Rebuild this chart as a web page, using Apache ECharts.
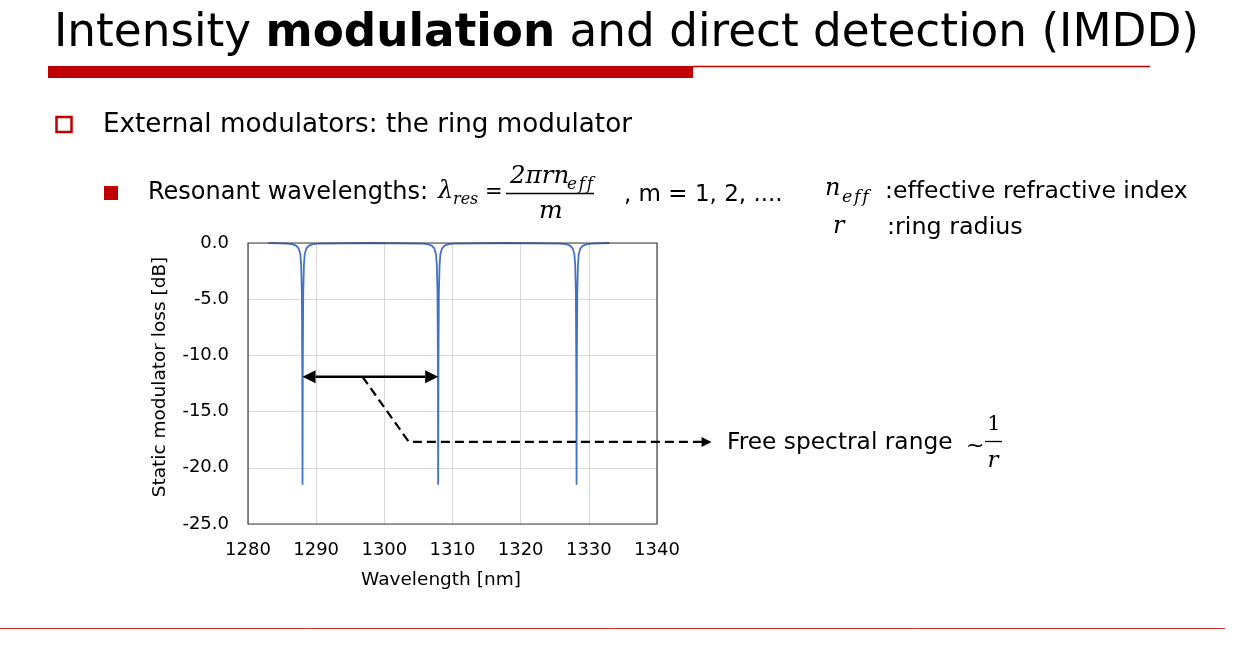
<!DOCTYPE html>
<html>
<head>
<meta charset="utf-8">
<script src="https://cdn.jsdelivr.net/npm/echarts@6/dist/echarts.min.js"></script>
<style>
  html, body { margin: 0; padding: 0; background: #fff; }
  #chart { width: 1240px; height: 648px; }
</style>
</head>
<body>
<div id="chart"></div>
<script>
// x ticks / y ticks
var xTicks = [1280, 1290, 1300, 1310, 1320, 1330, 1340];
var yTicks = [0, -5, -10, -15, -20, -25];

// ring transmission (three resonances)
var wavelength = [
  1283.0, 1285.8, 1286.6, 1287.1, 1287.45, 1287.68, 1287.8, 1287.9, 1287.96,
  1288.0,
  1288.04, 1288.1, 1288.2, 1288.32, 1288.55, 1288.9, 1289.4, 1290.2,
  1298.0,
  1305.7, 1306.5, 1307.0, 1307.35, 1307.58, 1307.7, 1307.8, 1307.86,
  1307.9,
  1307.94, 1308.0, 1308.1, 1308.22, 1308.45, 1308.8, 1309.3, 1310.1,
  1318.0,
  1326.0, 1326.8, 1327.3, 1327.65, 1327.88, 1328.0, 1328.1, 1328.16,
  1328.2,
  1328.24, 1328.3, 1328.4, 1328.52, 1328.75, 1329.1, 1329.6, 1330.4,
  1333.0
];
var loss = [
  0.0, -0.05, -0.12, -0.25, -0.5, -1.0, -2.0, -4.5, -11.0,
  -21.5,
  -11.0, -4.5, -2.0, -1.0, -0.5, -0.25, -0.12, -0.05,
  0.0,
  -0.05, -0.12, -0.25, -0.5, -1.0, -2.0, -4.5, -11.0,
  -21.5,
  -11.0, -4.5, -2.0, -1.0, -0.5, -0.25, -0.12, -0.05,
  0.0,
  -0.05, -0.12, -0.25, -0.5, -1.0, -2.0, -4.5, -11.0,
  -21.5,
  -11.0, -4.5, -2.0, -1.0, -0.5, -0.25, -0.12, -0.05,
  0.0
];

// annotation anchors in data units
var fsrArrow = [[1288.0, -11.9], [1307.9, -11.9]];
var leaderPath = [[1296.8, -11.9], [1303.6, -17.7], [1348.0, -17.7]];

var RED = '#c00000';
var SANS = 'DejaVu Sans';
var SERIF = 'DejaVu Serif';
var EFF = 'e\u200Af\u200Af';

var chart = echarts.init(document.getElementById('chart'));

var seriesData = wavelength.map(function (w, i) { return [w, loss[i]]; });

var option = {
  backgroundColor: '#fff',
  animation: false,
  grid: {
    left: 248, right: 583, top: 243, bottom: 124,
    show: true, borderColor: '#404040', borderWidth: 1.2, z: 4
  },
  xAxis: {
    type: 'value',
    min: xTicks[0], max: xTicks[xTicks.length - 1], interval: 10,
    axisLine: { show: false },
    axisTick: { show: false },
    axisLabel: {
      fontFamily: SANS, fontSize: 18, color: '#000', margin: 17,
      formatter: function (v) { return String(v); }
    },
    splitLine: { lineStyle: { color: '#d9d9d9', width: 1 } }
  },
  yAxis: {
    type: 'value',
    min: yTicks[yTicks.length - 1], max: yTicks[0], interval: 5,
    axisLine: { show: false },
    axisTick: { show: false },
    axisLabel: {
      fontFamily: SANS, fontSize: 18, color: '#000', margin: 19,
      formatter: function (v) { return v.toFixed(1); }
    },
    splitLine: { lineStyle: { color: '#d9d9d9', width: 1 } }
  },
  series: [{
    type: 'line',
    data: seriesData,
    showSymbol: false,
    smooth: false,
    lineStyle: { color: '#4472c4', width: 1.8 },
    z: 3
  }]
};
chart.setOption(option);

// helpers for annotations
function px(p) { return chart.convertToPixel({ gridIndex: 0 }, p); }

function arrowHead(tip, dir, len, half) {
  // dir: +1 points right, -1 points left
  return {
    type: 'polygon',
    shape: { points: [tip, [tip[0] - dir * len, tip[1] - half], [tip[0] - dir * len, tip[1] + half]] },
    style: { fill: '#000' },
    z: 10
  };
}

function txt(s, x, y, size, extra) {
  var st = {
    text: s, fontSize: size, fontFamily: SANS, fill: '#000',
    align: 'left', verticalAlign: 'middle', textAlign: 'left', textVerticalAlign: 'middle'
  };
  if (extra) for (var k in extra) st[k] = extra[k];
  return { type: 'text', x: x, y: y, style: st, z: 10 };
}

function mathTxt(s, x, y, size, extra) {
  var e = { fontFamily: SERIF, fontStyle: 'italic' };
  if (extra) for (var k in extra) e[k] = extra[k];
  return txt(s, x, y, size, e);
}

var a0 = px(fsrArrow[0]), a1 = px(fsrArrow[1]);
var lp = leaderPath.map(px);
var headLen = 13, headHalf = 6.5;

var yName = txt('Static modulator loss [dB]', 160, 377, 18.5, { align: 'center', textAlign: 'center' });
yName.rotation = Math.PI / 2;

var graphics = [
  // title block
  {
    type: 'text', x: 54, y: 34, z: 10,
    style: {
      text: 'Intensity {b|modulation} and direct detection (IMDD)',
      fontSize: 45.3, fontFamily: SANS, fill: '#000',
      verticalAlign: 'middle', textVerticalAlign: 'middle',
      rich: { b: { fontSize: 45.3, fontFamily: SANS, fontWeight: 'bold', fill: '#000' } }
    }
  },
  { type: 'rect', shape: { x: 48, y: 66, width: 645, height: 12 }, style: { fill: RED }, z: 5 },
  { type: 'line', shape: { x1: 693, y1: 66.5, x2: 1150, y2: 66.5 }, style: { stroke: RED, lineWidth: 1.5 }, z: 5 },
  { type: 'line', shape: { x1: 0, y1: 628.5, x2: 1225, y2: 628.5 }, style: { stroke: '#d03030', lineWidth: 1 }, z: 5 },

  // bullets
  { type: 'rect', shape: { x: 56.5, y: 117, width: 15, height: 15 }, style: { fill: 'none', stroke: RED, lineWidth: 2.5 }, z: 5 },
  txt('External modulators: the ring modulator', 103, 125, 26.2),
  { type: 'rect', shape: { x: 104, y: 186, width: 14, height: 14 }, style: { fill: RED }, z: 5 },
  txt('Resonant wavelengths:', 148, 193, 24),

  // lambda_res = 2 pi r n_eff / m
  mathTxt('λ', 438, 192, 24),
  mathTxt('res', 453, 200, 16),
  txt('=', 485, 193, 21),
  mathTxt('2πrn', 510, 177, 24.5),
  mathTxt(EFF, 567, 185, 17),
  { type: 'line', shape: { x1: 506, y1: 193.5, x2: 594, y2: 193.5 }, style: { stroke: '#000', lineWidth: 1.3 }, z: 10 },
  mathTxt('m', 539, 211, 25),
  txt(', m = 1, 2, ....', 624, 195, 23),

  // legend of symbols
  mathTxt('n', 825, 189, 24),
  mathTxt(EFF, 842, 197, 17.5),
  txt(':ef\u200Cfective refractive index', 885, 192, 23.5),
  mathTxt('r', 833, 227, 24),
  txt(':ring radius', 887, 228, 23.8),

  // axis titles
  yName,
  txt('Wavelength [nm]', 441, 580, 18.5, { align: 'center', textAlign: 'center' }),

  // free spectral range label
  txt('Free spectral range', 727, 443, 23.3),
  txt('~', 966, 446, 22),
  txt('1', 994, 425, 21, { fontFamily: SERIF, align: 'center', textAlign: 'center' }),
  { type: 'line', shape: { x1: 985, y1: 441.5, x2: 1002, y2: 441.5 }, style: { stroke: '#000', lineWidth: 1.3 }, z: 10 },
  mathTxt('r', 993, 461, 23, { align: 'center', textAlign: 'center' }),

  // double arrow spanning one FSR
  {
    type: 'line',
    shape: { x1: a0[0] + headLen, y1: a0[1], x2: a1[0] - headLen, y2: a1[1] },
    style: { stroke: '#000', lineWidth: 2.5 }, z: 10
  },
  arrowHead(a0, -1, headLen, headHalf),
  arrowHead(a1, 1, headLen, headHalf),

  // dashed leader to the label
  {
    type: 'polyline',
    shape: { points: [lp[0], lp[1], [lp[2][0] - 9, lp[2][1]]] },
    style: { stroke: '#000', lineWidth: 2.2, lineDash: [9, 5], fill: 'none' }, z: 10
  },
  arrowHead(lp[2], 1, 10, 5)
];

chart.setOption({ graphic: { elements: graphics } });
</script>
</body>
</html>
